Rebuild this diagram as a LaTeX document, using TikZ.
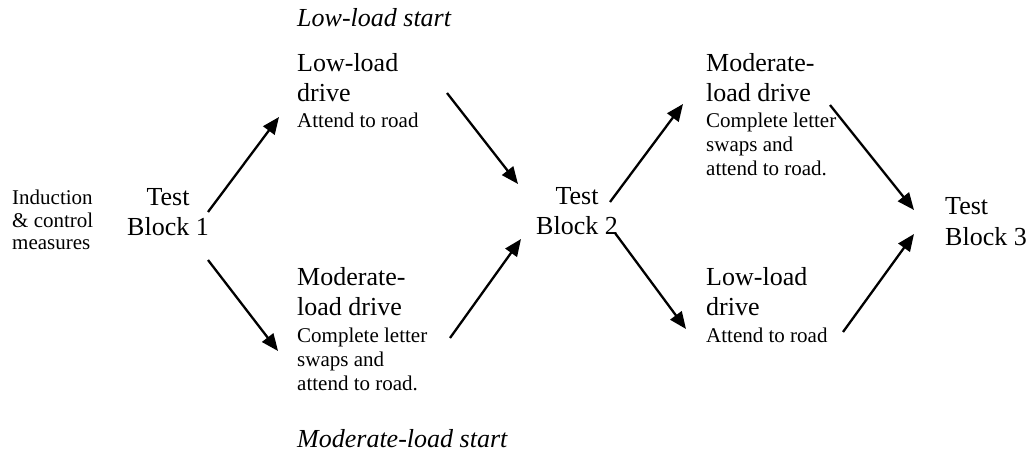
\documentclass[tikz,border=0pt]{standalone}
\usepackage{fontspec}
\setmainfont{Liberation Serif}
\usetikzlibrary{arrows.meta}
\begin{document}
\begin{tikzpicture}[x=1pt,y=-1pt,
  big/.style={font=\fontsize{26}{30}\selectfont, inner sep=0pt, anchor=base west},
  bigc/.style={big, anchor=base},
  sm/.style={font=\fontsize{21}{24}\selectfont, inner sep=0pt, anchor=base west},
  ital/.style={inner sep=0pt, anchor=base west, font=\fontsize{26}{30}\selectfont\itshape},
  arr/.style={line width=2.3pt, -{Triangle[length=17pt,width=14pt]}}]
\useasboundingbox (0,0) rectangle (1027,454);

% Induction
\node[sm] (ind1) at (12,205) {Induction};
\node[sm] (ind2) at (12,228) {\& control};
\node[sm] (ind3) at (12,250) {measures};

% Test Block 1
\node[bigc] (tb1a) at (168,206) {Test};
\node[bigc] (tb1b) at (168,236) {Block 1};

% Start labels
\node[ital] (lowstart) at (297,27) {Low-load start};
\node[ital] (modstart) at (297,447) {Moderate-load start};

% Upper left block
\node[big] (ul1) at (297,72) {Low-load};
\node[big] (ul2) at (297,102) {drive};
\node[sm] (ul3) at (297,128) {Attend to road};

% Lower left block
\node[big] (ll1) at (297,285) {Moderate-};
\node[big] (ll2) at (297,315) {load drive};
\node[sm] (ll3) at (297,342) {Complete letter};
\node[sm] (ll4) at (297,366) {swaps and};
\node[sm] (ll5) at (297,390) {attend to road.};

% Test Block 2
\node[bigc] (tb2a) at (577,205) {Test};
\node[bigc] (tb2b) at (577,235) {Block 2};

% Upper right block
\node[big] (ur1) at (706,72) {Moderate-};
\node[big] (ur2) at (706,102) {load drive};
\node[sm] (ur3) at (706,128) {Complete letter};
\node[sm] (ur4) at (706,152) {swaps and};
\node[sm] (ur5) at (706,176) {attend to road.};

% Lower right block
\node[big] (lr1) at (706,285) {Low-load};
\node[big] (lr2) at (706,315) {drive};
\node[sm] (lr3) at (706,342) {Attend to road};

% Test Block 3
\node[big] (tb3a) at (945,215) {Test};
\node[big] (tb3b) at (945,245) {Block 3};

% arrow end points
\coordinate (a1s) at (208,212); \coordinate (a1e) at (279,117);
\coordinate (a2s) at (208,260); \coordinate (a2e) at (278,351);
\coordinate (a3s) at (447,93);  \coordinate (a3e) at (518,184);
\coordinate (a4s) at (450,338); \coordinate (a4e) at (521,239);
\coordinate (a5s) at (610,202); \coordinate (a5e) at (683,104);
\coordinate (a6s) at (615,233); \coordinate (a6e) at (686,329);
\coordinate (a7s) at (830,105); \coordinate (a7e) at (914,210);
\coordinate (a8s) at (843,332); \coordinate (a8e) at (914,234);

\draw[arr] (a1s) -- (a1e);
\draw[arr] (a2s) -- (a2e);
\draw[arr] (a3s) -- (a3e);
\draw[arr] (a4s) -- (a4e);
\draw[arr] (a5s) -- (a5e);
\draw[arr] (a6s) -- (a6e);
\draw[arr] (a7s) -- (a7e);
\draw[arr] (a8s) -- (a8e);
\end{tikzpicture}
\end{document}
